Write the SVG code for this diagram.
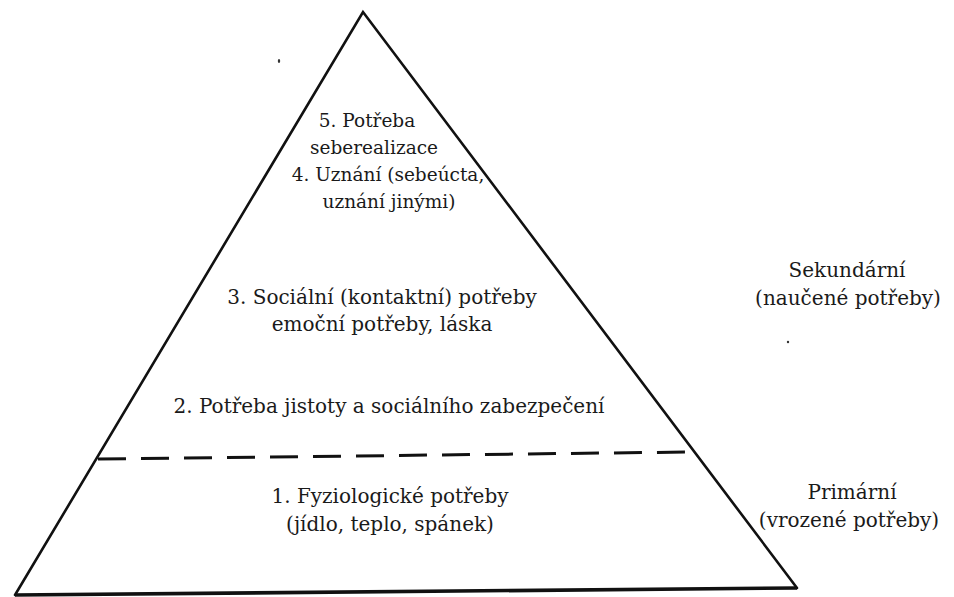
<svg xmlns="http://www.w3.org/2000/svg" width="954" height="597" viewBox="0 0 954 597">
<style>
.t{font-family:"DejaVu Serif","Liberation Serif",serif;font-size:20px;fill:#1a1a1a;text-anchor:middle}
.s{font-size:18.5px}
.edge{stroke:#111;stroke-width:2.6;fill:none;stroke-linecap:round}
.base{stroke:#111;stroke-width:3.6;fill:none}
.dash{stroke:#111;stroke-width:3;fill:none;stroke-dasharray:28 15}
</style>
<rect width="954" height="597" fill="#ffffff"/>
<g id="pyramid">
<path class="edge" d="M15 595 L363 12 L797 588"/>
<path class="base" d="M15 595 L797 588"/>
</g>
<g id="connectors">
<path class="dash" d="M98 459 L692 452"/>
</g>
<g id="level5">
<text class="t s" x="367" y="127">5. Potřeba</text>
<text class="t s" x="374" y="154">seberealizace</text>
</g>
<g id="level4">
<text class="t s" x="388" y="181">4. Uznání (sebeúcta,</text>
<text class="t s" x="389" y="208">uznání jinými)</text>
</g>
<g id="level3">
<text class="t" x="382" y="304">3. Sociální (kontaktní) potřeby</text>
<text class="t" x="382" y="331">emoční potřeby, láska</text>
</g>
<g id="level2">
<text class="t" x="389" y="413">2. Potřeba jistoty a sociálního zabezpečení</text>
</g>
<g id="level1">
<text class="t" x="390" y="503">1. Fyziologické potřeby</text>
<text class="t" x="390" y="531">(jídlo, teplo, spánek)</text>
</g>
<g id="secondary">
<text class="t" x="847" y="277">Sekundární</text>
<text class="t" x="848" y="305">(naučené potřeby)</text>
</g>
<g id="primary">
<text class="t" x="852" y="499">Primární</text>
<text class="t" x="849" y="527">(vrozené potřeby)</text>
</g>
<g id="specks" fill="#333">
<ellipse cx="279" cy="61" rx="1.2" ry="2"/>
<ellipse cx="788" cy="342" rx="1.2" ry="1.2"/>
</g>
</svg>
